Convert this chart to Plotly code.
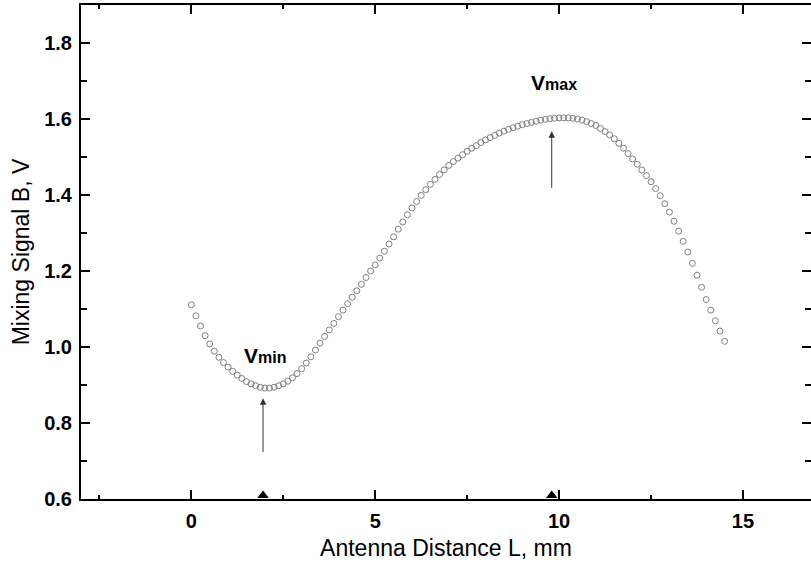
import plotly.graph_objects as go

# Antenna distance L (mm)
distance_mm = [
    0.000, 0.125, 0.250, 0.375, 0.500, 0.625, 0.750, 0.875, 1.000, 1.125,
    1.250, 1.375, 1.500, 1.625, 1.750, 1.875, 2.000, 2.125, 2.250, 2.375,
    2.500, 2.625, 2.750, 2.875, 3.000, 3.125, 3.250, 3.375, 3.500, 3.625,
    3.750, 3.875, 4.000, 4.125, 4.250, 4.375, 4.500, 4.625, 4.750, 4.875,
    5.000, 5.125, 5.250, 5.375, 5.500, 5.625, 5.750, 5.875, 6.000, 6.125,
    6.250, 6.375, 6.500, 6.625, 6.750, 6.875, 7.000, 7.125, 7.250, 7.375,
    7.500, 7.625, 7.750, 7.875, 8.000, 8.125, 8.250, 8.375, 8.500, 8.625,
    8.750, 8.875, 9.000, 9.125, 9.250, 9.375, 9.500, 9.625, 9.750, 9.875,
    10.000, 10.125, 10.250, 10.375, 10.500, 10.625, 10.750, 10.875, 11.000, 11.125,
    11.250, 11.375, 11.500, 11.625, 11.750, 11.875, 12.000, 12.125, 12.250, 12.375,
    12.500, 12.625, 12.750, 12.875, 13.000, 13.125, 13.250, 13.375, 13.500, 13.625,
    13.750, 13.875, 14.000, 14.125, 14.250, 14.375, 14.500,
]

# Mixing signal B (V)
signal_v = [
    1.111, 1.082, 1.055, 1.030, 1.008, 0.989, 0.973, 0.959, 0.947, 0.936,
    0.926, 0.917, 0.909, 0.903, 0.898, 0.894, 0.892, 0.892, 0.894, 0.898,
    0.903, 0.910, 0.919, 0.930, 0.943, 0.958, 0.974, 0.992, 1.010, 1.028,
    1.045, 1.062, 1.080, 1.097, 1.114, 1.131, 1.148, 1.165, 1.183, 1.200,
    1.216, 1.234, 1.252, 1.271, 1.290, 1.310, 1.329, 1.348, 1.366, 1.383,
    1.399, 1.414, 1.428, 1.441, 1.454, 1.466, 1.478, 1.488, 1.497, 1.506,
    1.515, 1.523, 1.530, 1.538, 1.545, 1.551, 1.557, 1.563, 1.568, 1.573,
    1.577, 1.581, 1.585, 1.588, 1.591, 1.594, 1.597, 1.599, 1.601, 1.602,
    1.603, 1.603, 1.603, 1.602, 1.600, 1.597, 1.593, 1.588, 1.583, 1.575,
    1.567, 1.558, 1.548, 1.536, 1.523, 1.509, 1.495, 1.481, 1.466, 1.451,
    1.435, 1.417, 1.398, 1.377, 1.355, 1.331, 1.305, 1.278, 1.250, 1.220,
    1.189, 1.157, 1.125, 1.097, 1.069, 1.042, 1.015,
]

# Extremum markers (Vmin, Vmax)
extremum_labels = ["V", "V"]
extremum_subs = ["min", "max"]
extremum_x = [1.95, 9.8]
arrow_tail_y = [0.72, 1.415]
arrow_tip_y = [0.865, 1.568]
label_x = [2.0, 9.87]
label_y = [0.977, 1.695]

x_range = [-3.0, 16.85]
y_range = [0.6, 1.9]

FONT = "Liberation Sans, Arial, sans-serif"

fig = go.Figure()

fig.add_trace(go.Scatter(
    x=distance_mm, y=signal_v, mode="markers",
    marker=dict(symbol="circle-open", size=6, color="#808080",
                line=dict(width=1, color="#808080")),
    showlegend=False, hoverinfo="x+y",
))

# triangles on the x axis (base on axis line)
tri_offset = 3.5 * (y_range[1] - y_range[0]) / 494.0
fig.add_trace(go.Scatter(
    x=extremum_x, y=[y_range[0] + tri_offset] * len(extremum_x), mode="markers",
    marker=dict(symbol="triangle-up", size=10, color="black"),
    cliponaxis=False, showlegend=False, hoverinfo="skip",
))

for xv, yt, yh in zip(extremum_x, arrow_tail_y, arrow_tip_y):
    fig.add_annotation(
        x=xv, y=yh, ax=xv, ay=yt, xref="x", yref="y", axref="x", ayref="y",
        showarrow=True, arrowhead=2, arrowsize=1.3, arrowwidth=1,
        arrowcolor="#333333", text="", standoff=0,
    )

for lab, sub, lx, ly in zip(extremum_labels, extremum_subs, label_x, label_y):
    fig.add_annotation(
        x=lx, y=ly, xref="x", yref="y", showarrow=False,
        text=f"<b>{lab}<span style='font-size:16px'>{sub}</span></b>",
        font=dict(family=FONT, size=21, color="black"),
    )

axis_common = dict(
    showline=True, linecolor="black", linewidth=2, mirror="ticks",
    ticks="inside", tickcolor="black", tickwidth=1.5,
    showgrid=False, zeroline=False,
    tickfont=dict(family=FONT, size=20, color="black", weight="bold"),
)

fig.update_xaxes(
    range=x_range, tickvals=[0, 5, 10, 15], ticklen=9,
    minor=dict(tickvals=[-2.5, 2.5, 7.5, 12.5], ticklen=4, ticks="inside",
               tickcolor="black", tickwidth=1.5),
    title=dict(text="Antenna Distance L, mm", standoff=9,
               font=dict(family=FONT, size=23, color="black")),
    ticklabelstandoff=3,
    **axis_common,
)
fig.update_yaxes(
    range=y_range, tickvals=[0.6, 0.8, 1.0, 1.2, 1.4, 1.6, 1.8],
    ticktext=["0.6", "0.8", "1.0", "1.2", "1.4", "1.6", "1.8"], ticklen=9,
    minor=dict(tickvals=[0.7, 0.9, 1.1, 1.3, 1.5, 1.7], ticklen=6, ticks="inside",
               tickcolor="black", tickwidth=1.5),
    title=dict(text="Mixing Signal B, V", standoff=8,
               font=dict(family=FONT, size=23, color="black")),
    ticklabelstandoff=3,
    **axis_common,
)

fig.update_layout(
    width=811, height=568,
    margin=dict(l=81, r=0, t=5, b=69, autoexpand=False),
    plot_bgcolor="white", paper_bgcolor="white",
    font=dict(family=FONT, color="black"),
    showlegend=False,
)

fig.write_html("out.html", config={"displayModeBar": False},
               post_script="document.body.style.margin='0px';")
